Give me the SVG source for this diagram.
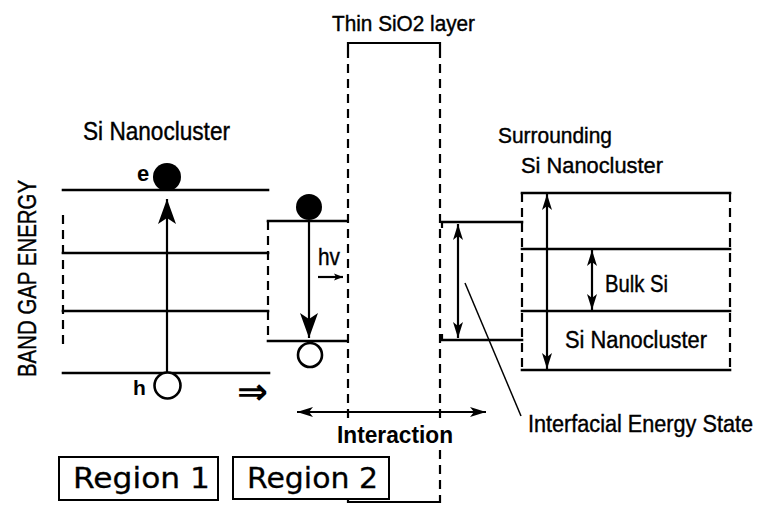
<svg xmlns="http://www.w3.org/2000/svg" width="768" height="513" viewBox="0 0 768 513">
<defs>
<style>
.lv{stroke:#000;stroke-width:2.6;fill:none;stroke-linecap:square}
.ds{stroke:#000;stroke-width:2.2;fill:none;stroke-dasharray:9 6}
.ar{stroke:#000;stroke-width:2.2;fill:none}
.th{stroke:#000;stroke-width:1.5;fill:none}
.t{font-family:"Liberation Sans",Arial,sans-serif;fill:#000;stroke:#000;stroke-width:0.4}
.b{font-family:"Liberation Sans",Arial,sans-serif;font-weight:bold;fill:#000}
.r{font-family:"DejaVu Sans",Verdana,sans-serif;fill:#000;stroke:#000;stroke-width:0.3}
.box{fill:#fff;stroke:#000;stroke-width:2}
</style>
<marker id="ahL" viewBox="-26 -10 27 20" refX="0" refY="0" markerWidth="27" markerHeight="20" markerUnits="userSpaceOnUse" orient="auto-start-reverse"><path d="M0,0 L-25,-9 L-19,0 L-25,9 Z" fill="#000"/></marker>
<marker id="ah" viewBox="-18 -6 19 12" refX="0" refY="0" markerWidth="19" markerHeight="12" markerUnits="userSpaceOnUse" orient="auto-start-reverse"><path d="M0,0 L-16,-5 L-12,0 L-16,5 Z" fill="#000"/></marker>
<marker id="ahS" viewBox="-10 -4 11 8" refX="0" refY="0" markerWidth="11" markerHeight="8" markerUnits="userSpaceOnUse" orient="auto"><path d="M0,0 L-9,-3.5 L-7,0 L-9,3.5 Z" fill="#000"/></marker>
</defs>
<rect width="768" height="513" fill="#fff"/>

<g id="axis-label">
<text class="t" font-size="25" textLength="197" lengthAdjust="spacingAndGlyphs" transform="translate(36,377) rotate(-90)">BAND GAP ENERGY</text>
</g>

<g id="region1">
<line class="lv" x1="63" y1="190" x2="268" y2="190"/>
<line class="lv" x1="63" y1="253" x2="268" y2="253"/>
<line class="lv" x1="63" y1="311" x2="268" y2="311"/>
<line class="lv" x1="63" y1="373" x2="269" y2="373"/>
<line class="ds" x1="63" y1="215" x2="63" y2="348"/>
<circle cx="167" cy="177" r="14" fill="#000"/>
<circle cx="167.5" cy="385.5" r="13" fill="#fff" stroke="#000" stroke-width="2.6"/>
<text class="t" font-size="25" x="83" y="140" textLength="147" lengthAdjust="spacingAndGlyphs">Si Nanocluster</text>
<text class="b" font-size="22" x="137" y="181">e</text>
<text class="b" font-size="21" x="133" y="395">h</text>
<text font-family="DejaVu Sans,sans-serif" font-weight="bold" font-size="36" x="237" y="404" textLength="31" lengthAdjust="spacingAndGlyphs">⇒</text>
</g>

<g id="region2">
<line class="lv" x1="268" y1="221" x2="347" y2="221"/>
<line class="lv" x1="268" y1="341" x2="347" y2="341"/>
<line class="ds" x1="268" y1="221" x2="268" y2="341"/>
<circle cx="309" cy="207" r="13" fill="#000"/>
<circle cx="310" cy="355" r="12" fill="#fff" stroke="#000" stroke-width="2.6"/>
<text class="t" font-size="24" x="318" y="265" textLength="22" lengthAdjust="spacingAndGlyphs">hv</text>
</g>

<g id="sio2-layer">
<path d="M348,49 V43 H440 V49" stroke="#000" stroke-width="2.2" fill="none"/>
<path d="M348,496 V502 H440 V496" stroke="#000" stroke-width="2.2" fill="none"/>
<line class="ds" x1="348" y1="49" x2="348" y2="421"/>
<line class="ds" x1="440" y1="49" x2="440" y2="421"/>
<line class="ds" x1="440" y1="450" x2="440" y2="496"/>
<text class="t" font-size="22" x="332" y="31" textLength="143" lengthAdjust="spacingAndGlyphs">Thin SiO2 layer</text>
</g>

<g id="interfacial-state">
<line class="lv" x1="442" y1="222" x2="522" y2="222"/>
<line class="lv" x1="442" y1="340" x2="522" y2="340"/>
<line class="ds" x1="442" y1="222" x2="442" y2="228"/>
<line class="ds" x1="442" y1="334" x2="442" y2="340"/>
<text class="t" font-size="23" x="528" y="432" textLength="225" lengthAdjust="spacingAndGlyphs">Interfacial Energy State</text>
</g>

<g id="surrounding">
<line class="lv" x1="522" y1="193" x2="730" y2="193"/>
<line class="lv" x1="522" y1="249" x2="730" y2="249"/>
<line class="lv" x1="522" y1="311" x2="730" y2="311"/>
<line class="lv" x1="522" y1="370" x2="730" y2="370"/>
<line class="ds" x1="522" y1="193" x2="522" y2="370"/>
<line class="ds" x1="730" y1="193" x2="730" y2="370"/>
<text class="t" font-size="22" x="498" y="143" textLength="114" lengthAdjust="spacingAndGlyphs">Surrounding</text>
<text class="t" font-size="22" x="521" y="173" textLength="142" lengthAdjust="spacingAndGlyphs">Si Nanocluster</text>
<text class="t" font-size="24" x="605" y="292" textLength="63" lengthAdjust="spacingAndGlyphs">Bulk Si</text>
<text class="t" font-size="23" x="565" y="348" textLength="142" lengthAdjust="spacingAndGlyphs">Si Nanocluster</text>
</g>

<g id="connectors">
<line class="ar" x1="167" y1="373" x2="167" y2="199" marker-end="url(#ahL)"/>
<line class="ar" x1="309" y1="221" x2="309" y2="338" marker-end="url(#ahL)"/>
<line class="ar" x1="318" y1="277" x2="343" y2="277" marker-end="url(#ahS)"/>
<line class="ar" x1="297" y1="412" x2="486" y2="412" marker-start="url(#ah)" marker-end="url(#ah)"/>
<line class="ar" x1="458" y1="224" x2="458" y2="338" marker-start="url(#ah)" marker-end="url(#ah)"/>
<line class="ar" x1="547" y1="194" x2="547" y2="369" marker-start="url(#ah)" marker-end="url(#ah)"/>
<line class="ar" x1="592" y1="250" x2="592" y2="310" marker-start="url(#ah)" marker-end="url(#ah)"/>
<line class="th" x1="465" y1="283" x2="521" y2="416"/>
</g>

<g id="interaction-label">
<text class="b" font-size="24" x="337" y="443" textLength="116" lengthAdjust="spacingAndGlyphs">Interaction</text>
</g>

<g id="region1-box">
<rect class="box" x="59" y="457" width="159" height="43"/>
<text class="r" font-size="28" x="73" y="488" textLength="137" lengthAdjust="spacingAndGlyphs">Region 1</text>
</g>

<g id="region2-box">
<rect class="box" x="233" y="457" width="156" height="42"/>
<text class="r" font-size="28" x="247" y="488" textLength="131" lengthAdjust="spacingAndGlyphs">Region 2</text>
</g>
</svg>
